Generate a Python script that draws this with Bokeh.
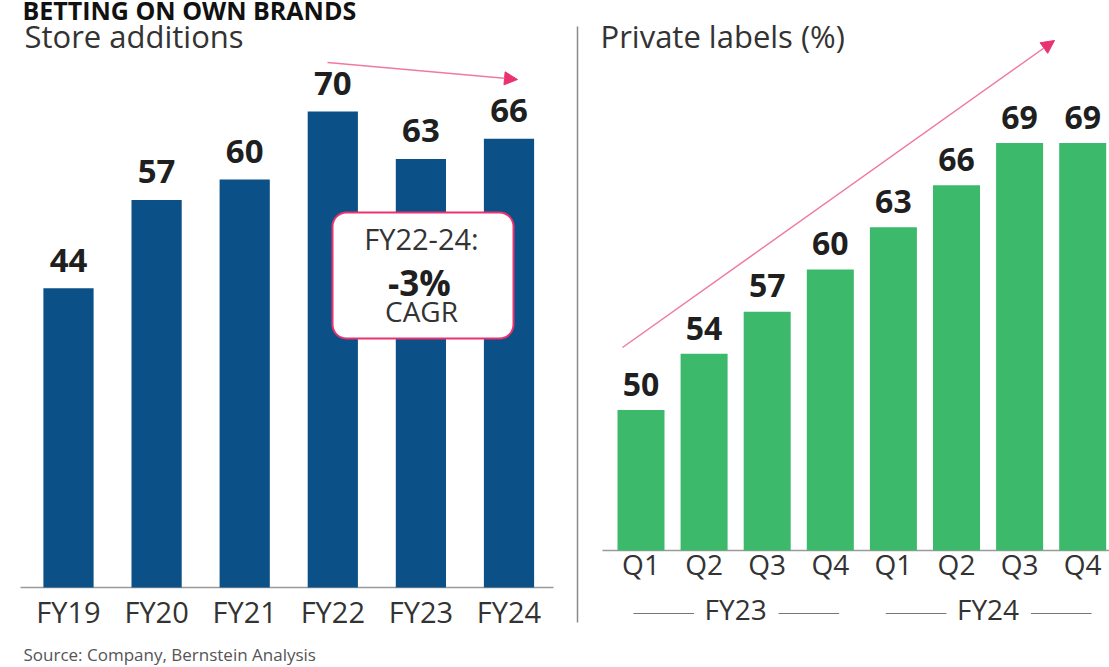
from bokeh.plotting import figure
from bokeh.models import Range1d, Arrow, NormalHead
from bokeh.embed import file_html
from bokeh.resources import INLINE
from bokeh.core.properties import value

# ---------------- data ----------------
years = ["FY19", "FY20", "FY21", "FY22", "FY23", "FY24"]
store_additions = [44, 57, 60, 70, 63, 66]

quarters = ["Q1", "Q2", "Q3", "Q4", "Q1", "Q2", "Q3", "Q4"]
quarter_fy = ["FY23", "FY23", "FY23", "FY23", "FY24", "FY24", "FY24", "FY24"]
fy_groups = ["FY23", "FY24"]
private_label_share = [50, 54, 57, 60, 63, 66, 69, 69]
pl_axis_min = 40

banner = "BETTING ON OWN BRANDS"
left_title = "Store additions"
right_title = "Private labels (%)"
cagr_lines = ["FY22-24:", "-3%", "CAGR"]
source_note = "Source: Company, Bernstein Analysis"

# ---------------- styles ----------------
W, H = 1109, 667
BLUE = "#0b5188"
GREEN = "#3cb96b"
PINK = "#e8336e"
PINK_LINE = "#f07a9e"
TXT = "#333333"
DARK = "#1f1f1f"
FONT = value("Open Sans")
SHIFT = 0.43  # svg text baseline compensation (fraction of font size)


def bl(y, size):
    """pixel baseline -> drawing coordinate"""
    return y - SHIFT * size


p = figure(width=W, height=H, output_backend="svg", toolbar_location=None,
           x_range=Range1d(0, W), y_range=Range1d(H, 0),
           x_axis_type=None, y_axis_type=None, min_border=0)
p.grid.visible = False
p.outline_line_color = None
p.background_fill_color = "white"
p.border_fill_color = "white"

# scales for each panel (layout: pixel positions of category centres / baselines)
sa_x0, sa_step = 68.0, 88.1
sa_base, sa_ppu = 587.0, 6.8
pl_x0, pl_step = 640.5, 63.1
pl_base, pl_ppu = 550.0, 14.05

p.extra_x_ranges = {
    "sa": Range1d(-sa_x0 / sa_step, (W - sa_x0) / sa_step),
    "pl": Range1d(-pl_x0 / pl_step, (W - pl_x0) / pl_step),
}
p.extra_y_ranges = {
    "sa": Range1d(-(H - sa_base) / sa_ppu, sa_base / sa_ppu),
    "pl": Range1d(pl_axis_min - (H - pl_base) / pl_ppu, pl_axis_min + pl_base / pl_ppu),
}

sa_idx = list(range(len(years)))
pl_idx = list(range(len(quarters)))

# ---------------- banner (kept fully inside the page) ----------------
p.text(x=[22], y=[bl(20, 25)], text=[banner], text_font=FONT, text_font_style="bold",
       text_font_size="25px", text_color="#111111", text_baseline="alphabetic")

# panel titles
p.text(x=[24, 600], y=[bl(49, 31)] * 2, text=[left_title, right_title], text_font=FONT,
       text_font_size="31px", text_color=TXT, text_baseline="alphabetic")

# divider
p.segment(x0=[577], y0=[26], x1=[577], y1=[622], line_color="#8a8a8a", line_width=1.5)

# ---------------- left panel: store additions ----------------
p.segment(x0=[20], y0=[sa_base], x1=[553], y1=[sa_base], line_color="#9a9a9a", line_width=1.5)
p.vbar(x=sa_idx, top=store_additions, bottom=0, width=0.57, fill_color=BLUE,
       line_color=None, x_range_name="sa", y_range_name="sa")
p.text(x=sa_idx, y=store_additions, text=[str(v) for v in store_additions],
       x_range_name="sa", y_range_name="sa", y_offset=-14 - SHIFT * 33, text_align="center",
       text_baseline="alphabetic", text_font=FONT, text_font_style="bold",
       text_font_size="33px", text_color=DARK)
p.text(x=sa_idx, y=[bl(623, 29)] * len(years), text=years, x_range_name="sa",
       text_align="center", text_baseline="alphabetic", text_font=FONT,
       text_font_size="29px", text_color=TXT)

# CAGR box
p.quad(left=[332], right=[513], top=[212], bottom=[338], border_radius=14,
       fill_color="white", line_color=PINK, line_width=2)
p.text(x=[421], y=[bl(250, 29)], text=[cagr_lines[0]], text_align="center", text_baseline="alphabetic",
       text_font=FONT, text_font_size="29px", text_color=TXT)
p.text(x=[419], y=[bl(297, 35)], text=[cagr_lines[1]], text_align="center", text_baseline="alphabetic",
       text_font=FONT, text_font_style="bold", text_font_size="35px", text_color=DARK)
p.text(x=[421], y=[bl(323, 28)], text=[cagr_lines[2]], text_align="center", text_baseline="alphabetic",
       text_font=FONT, text_font_size="28px", text_color=TXT)

# trend arrow (left)
p.add_layout(Arrow(x_start=327, y_start=62, x_end=517, y_end=79,
                   line_color=PINK_LINE, line_width=1.5,
                   end=NormalHead(size=13, fill_color=PINK, line_color=PINK)))

# ---------------- right panel: private labels ----------------
p.segment(x0=[602], y0=[pl_base], x1=[W], y1=[pl_base], line_color="#9a9a9a", line_width=1.5)
p.vbar(x=pl_idx, top=private_label_share, bottom=pl_axis_min, width=0.745,
       fill_color=GREEN, line_color=None, x_range_name="pl", y_range_name="pl")
p.text(x=pl_idx, y=private_label_share, text=[str(v) for v in private_label_share],
       x_range_name="pl", y_range_name="pl", y_offset=-12 - SHIFT * 32, text_align="center",
       text_baseline="alphabetic", text_font=FONT, text_font_style="bold",
       text_font_size="32px", text_color=DARK)
p.text(x=pl_idx, y=[bl(576, 28)] * len(quarters), text=quarters, x_range_name="pl",
       text_align="center", text_baseline="alphabetic", text_font=FONT,
       text_font_size="28px", text_color=TXT)

grp_centres = []
for g in fy_groups:
    members = [i for i, f in enumerate(quarter_fy) if f == g]
    grp_centres.append(sum(members) / len(members))
p.text(x=grp_centres, y=[bl(621, 28)] * len(fy_groups), text=fy_groups, x_range_name="pl",
       text_align="center", text_baseline="alphabetic", text_font=FONT,
       text_font_size="28px", text_color=TXT)
p.segment(x0=[c - 1.62 for c in grp_centres] + [c + 0.68 for c in grp_centres],
          x1=[c - 0.66 for c in grp_centres] + [c + 1.64 for c in grp_centres],
          y0=[613] * 4, y1=[613] * 4, x_range_name="pl",
          line_color="#777777", line_width=1.2)

# trend arrow (right)
p.add_layout(Arrow(x_start=622, y_start=347, x_end=1054, y_end=40,
                   line_color=PINK_LINE, line_width=1.5,
                   end=NormalHead(size=13, fill_color=PINK, line_color=PINK)))

# source (kept fully inside the page)
p.text(x=[23], y=[bl(661, 17)], text=[source_note], text_font=FONT, text_font_size="17px",
       text_color="#555555", text_baseline="alphabetic")

html = file_html(p, INLINE, title="Betting on own brands")
style = ("<style>html,body{margin:0 !important;padding:0 !important;"
         "overflow:hidden !important;}</style>")
html = html.replace("</head>", style + "</head>", 1)
open("out.html", "w").write(html)
